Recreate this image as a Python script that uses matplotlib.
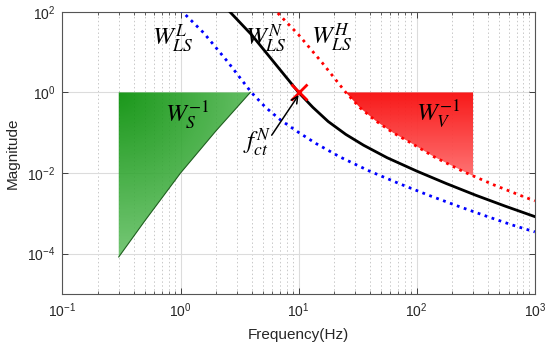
import numpy as np
import matplotlib
matplotlib.use("Agg")
import matplotlib.pyplot as plt
from matplotlib.patches import Polygon
from matplotlib.ticker import FixedLocator, FixedFormatter, NullLocator, LogLocator

plt.rcParams['font.family'] = ['Liberation Sans', 'DejaVu Sans']
plt.rcParams['mathtext.fontset'] = 'stix'

# ---------------- data ----------------
# W_LS^N (black solid)
wn_f = [2.5, 4.0, 6.3, 10, 13.2, 17.8, 25.1, 35.5, 56.2, 100, 178, 316, 562, 1000]
wn_mag = [115, 26.9, 5.25, 1.0, 0.427, 0.19, 0.091, 0.049, 0.024, 0.0112, 0.0055,
          0.00282, 0.00151, 0.000832]
# W_LS^L (blue dotted)
wl_f = [1.0, 1.58, 2.51, 3.98, 5.25, 7.08, 10, 14.1, 22.4, 39.8, 70.8, 126, 224,
        398, 631, 1000]
wl_mag = [112, 29.5, 5.75, 1.0, 0.427, 0.204, 0.102, 0.0537, 0.0251, 0.0112,
          0.0055, 0.00282, 0.00151, 0.000832, 0.000525, 0.000347]
# W_LS^H (red dotted)
wh_f = [6.03, 10, 15.8, 25.1, 33.1, 44.7, 63.1, 89.1, 141, 251, 447, 794, 1000]
wh_mag = [126, 26.9, 5.5, 1.0, 0.417, 0.2, 0.1, 0.0562, 0.0251, 0.0107, 0.00513,
          0.00263, 0.00204]
# W_S^-1 region (green): lower edge, top at magnitude 1
ws_f = [0.3, 0.5, 1.0, 2.0, 3.9]
ws_mag = [8.3e-5, 6.6e-4, 0.01, 0.112, 1.0]
ws_top = 1.0
# W_V^-1 region (red): lower-left edge, top at magnitude 1
wv_f = [25.1, 33.1, 44.7, 63.1, 89.1, 141, 200, 300]
wv_mag = [1.0, 0.417, 0.2, 0.1, 0.0562, 0.0251, 0.0151, 0.0085]
wv_top = 1.0
# crossover point f_ct^N
fct_f, fct_mag = 10, 1.0
arrow_tail = (5.92, 0.087)
arrow_head = (10, 0.86)

xticks = [0.1, 1, 10, 100, 1000]
xticklabels = [r'$\mathregular{10^{-1}}$', r'$\mathregular{10^{0}}$',
               r'$\mathregular{10^{1}}$', r'$\mathregular{10^{2}}$',
               r'$\mathregular{10^{3}}$']
yticks = [1e-4, 1e-2, 1, 1e2]
yticklabels = [r'$\mathregular{10^{-4}}$', r'$\mathregular{10^{-2}}$',
               r'$\mathregular{10^{0}}$', r'$\mathregular{10^{2}}$']

# ---------------- figure ----------------
W, H = 550, 354
fig = plt.figure(figsize=(5.5, 3.54), dpi=100)
x0, x1, y0, y1 = 62.4, 534.8, 11.8, 294.0
ax = fig.add_axes([x0 / W, 1 - y1 / H, (x1 - x0) / W, (y1 - y0) / H])
ax.set_xscale('log')
ax.set_yscale('log')

axw, axh = x1 - x0, y1 - y0

ny, nx = 400, 700
X, Y = np.meshgrid(np.linspace(0, 1, nx), np.linspace(0, 1, ny))

def gradient(c0, c1, cx, cy, dmax, wx=1.0, wy=1.0):
    dx = (X - cx) * axw * wx
    dy = (Y - cy) * axh * wy
    t = np.clip(np.sqrt(dx ** 2 + dy ** 2) / dmax, 0, 1)[..., None]
    c0 = np.array(c0) / 255.0
    c1 = np.array(c1) / 255.0
    return c0 * (1 - t) + c1 * t

# green region
gpoly = Polygon(list(zip([ws_f[0], ws_f[-1]], [ws_top, ws_top])) +
                list(zip(ws_f[::-1], ws_mag[::-1])), closed=True,
                facecolor='none', edgecolor='none')
ax.add_patch(gpoly)
gimg = gradient((0, 140, 0), (100, 192, 100),
                (118.3 - x0) / axw, 1 - (92.3 - y0) / axh, 160)
im1 = ax.imshow(gimg, extent=(0, 1, 0, 1), transform=ax.transAxes,
                origin='lower', aspect='auto', zorder=1, alpha=0.9,
                interpolation='bilinear')
im1.set_clip_path(gpoly)
ax.plot(ws_f, ws_mag, color='#1f5f1f', lw=0.8, zorder=2)

# red region
rpoly = Polygon(list(zip([wv_f[0], wv_f[-1]], [wv_top, wv_top])) +
                list(zip(wv_f[::-1], wv_mag[::-1])), closed=True,
                facecolor='none', edgecolor='none')
ax.add_patch(rpoly)
rimg = gradient((248, 12, 12), (255, 115, 115),
                0.5, 1 - (92.3 - y0) / axh, 90, wx=0.0, wy=1.0)
im2 = ax.imshow(rimg, extent=(0, 1, 0, 1), transform=ax.transAxes,
                origin='lower', aspect='auto', zorder=1, alpha=0.95,
                interpolation='bilinear')
im2.set_clip_path(rpoly)

# curves
ax.plot(wl_f, wl_mag, color='#0000ff', lw=2.0, ls=':', zorder=3)
ax.plot(wh_f, wh_mag, color='#ff0000', lw=2.0, ls=':', zorder=3)
ax.plot(wn_f, wn_mag, color='black', lw=2.0, zorder=4)
ax.plot([fct_f], [fct_mag], 'x', color='red', ms=11, mew=2.0, zorder=5)
ax.annotate('', xy=arrow_head, xytext=arrow_tail,
            arrowprops=dict(arrowstyle='->', color='black', lw=1.1,
                            shrinkA=0, shrinkB=0, mutation_scale=12), zorder=6)

ax.set_xlim(0.1, 1000)
ax.set_ylim(1e-5, 1e2)

# ticks / grid
ax.xaxis.set_major_locator(FixedLocator(xticks))
ax.xaxis.set_major_formatter(FixedFormatter(xticklabels))
ax.xaxis.set_minor_locator(LogLocator(base=10, subs=np.arange(2, 10), numticks=20))
ax.yaxis.set_major_locator(FixedLocator(yticks))
ax.yaxis.set_major_formatter(FixedFormatter(yticklabels))
ax.yaxis.set_minor_locator(NullLocator())
ax.tick_params(which='both', direction='in', top=True, right=True,
               colors='#262626', labelsize=10)
ax.tick_params(which='major', length=4, width=0.6, pad=5)
ax.tick_params(which='minor', length=2.2, width=0.5)
ax.set_axisbelow(True)
ax.grid(True, which='major', color='#dcdcdc', lw=0.8, ls='-')
ax.grid(True, which='minor', axis='x', color='#c8c8c8', lw=0.7, ls=(0, (1.5, 2.5)))
for s in ax.spines.values():
    s.set_color('#555555')
    s.set_linewidth(0.8)

ax.set_xlabel('Frequency(Hz)', fontsize=11, color='#262626', labelpad=6)
ax.set_ylabel('Magnitude', fontsize=11, color='#262626', labelpad=5)

def label(px, py, s, size=18):
    fig.text(px / W, 1 - py / H, s, fontsize=size, ha='left', va='baseline',
             color='black', zorder=10)

label(152, 46, r'$W_{LS}^{L}$')
label(245, 46, r'$W_{LS}^{N}$')
label(311, 45, r'$W_{LS}^{H}$')
label(165, 121, r'$W_{S}^{-1}$')
label(416, 120, r'$W_{V}^{-1}$')
label(243, 150, r'$f_{ct}^{N}$')

fig.savefig('out.png', dpi=100)
